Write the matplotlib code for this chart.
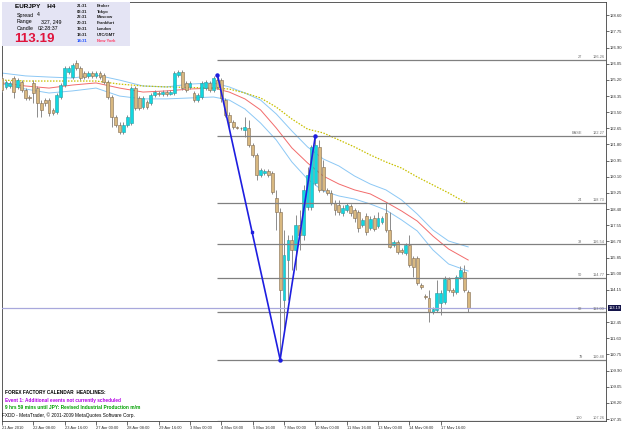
import numpy as np
import matplotlib
matplotlib.use('Agg')
import matplotlib.pyplot as plt
from matplotlib.patches import Rectangle
import matplotlib.transforms as mtransforms

plt.rcParams['font.family'] = ['Liberation Sans', 'DejaVu Sans']

# EURJPY H4 candles, 21 Apr 2010 00:00 .. 18 May 2010 20:00 (bar index 0..119)
opens = [125.30, 124.83, 124.88, 125.30, 124.83, 125.09, 124.67, 124.30, 125.04, 124.77,
         123.99, 124.14, 124.14, 123.62, 123.51, 124.30, 124.93, 125.62, 125.35, 126.09,
         125.83, 125.56, 125.41, 125.56, 125.41, 125.56, 125.46, 125.09, 124.30, 123.25,
         122.83, 122.46, 122.83, 122.93, 124.77, 124.25, 123.77, 124.04, 123.99, 124.41,
         124.51, 124.46, 124.56, 124.46, 124.51, 125.46, 125.62, 125.04, 124.83, 124.51,
         124.14, 124.30, 124.77, 125.04, 124.67, 125.19, 125.19, 124.14, 123.35, 122.98,
         122.72, 122.67, 122.56, 122.67, 121.77, 121.25, 120.20, 120.30, 120.41, 120.30,
         118.98, 118.25, 113.62, 115.72, 116.77, 116.25, 117.56, 117.04, 118.51, 118.51,
         119.77, 121.67, 120.62, 119.41, 119.25, 118.72, 118.62, 118.20, 118.35, 118.56,
         118.35, 118.25, 117.56, 118.04, 117.41, 117.93, 117.51, 117.72, 118.20, 117.30,
         116.51, 116.67, 116.25, 116.09, 116.51, 115.83, 115.83, 114.41, 113.83, 113.72,
         112.98, 113.09, 113.46, 113.51, 114.72, 114.14, 114.04, 114.83, 115.09, 114.04]
highs = [125.41, 125.19, 125.14, 125.41, 125.30, 125.19, 124.77, 124.41, 125.19, 124.88,
         124.14, 124.25, 124.25, 123.72, 124.51, 125.04, 125.93, 125.93, 126.09, 126.25,
         125.93, 125.67, 125.67, 125.67, 125.67, 125.67, 125.56, 125.19, 124.41, 123.35,
         122.98, 122.98, 123.35, 124.88, 124.88, 124.35, 124.35, 124.14, 124.51, 124.67,
         124.62, 124.67, 124.67, 124.67, 125.67, 125.72, 125.72, 125.14, 125.14, 124.62,
         124.51, 125.14, 125.19, 125.14, 125.41, 125.47, 125.30, 124.25, 123.51, 123.09,
         122.77, 122.72, 123.25, 123.09, 121.88, 121.35, 120.56, 120.51, 120.51, 120.41,
         119.41, 118.46, 117.30, 117.04, 117.04, 118.09, 118.35, 119.67, 120.62, 121.77,
         122.27, 122.04, 120.98, 119.51, 119.41, 118.88, 118.88, 118.62, 118.72, 118.67,
         118.46, 118.35, 117.93, 118.20, 118.04, 118.09, 118.25, 118.04, 118.72, 118.25,
         116.77, 116.77, 116.35, 116.62, 117.04, 115.93, 115.93, 114.51, 113.93, 114.14,
         113.25, 114.67, 114.14, 114.88, 114.83, 114.25, 114.93, 115.41, 115.46, 114.14]
lows = [124.56, 124.72, 124.77, 124.25, 124.72, 124.56, 124.14, 124.14, 123.99, 123.25,
        123.25, 123.83, 123.30, 123.35, 123.41, 124.20, 124.83, 125.51, 125.25, 125.72,
        125.19, 125.25, 125.30, 125.30, 125.30, 125.25, 124.98, 124.20, 122.72, 122.72,
        122.35, 122.35, 122.72, 122.83, 123.62, 123.62, 123.67, 123.67, 123.88, 124.30,
        124.35, 124.35, 124.35, 124.41, 124.41, 125.35, 124.67, 124.56, 124.72, 124.04,
        124.04, 124.20, 124.67, 124.56, 124.56, 124.72, 124.04, 123.25, 122.72, 122.61,
        122.61, 122.56, 122.20, 121.67, 121.14, 119.93, 120.09, 120.20, 120.09, 119.20,
        117.30, 110.48, 112.04, 113.62, 115.20, 115.20, 116.25, 116.77, 118.35, 118.35,
        119.67, 119.30, 119.30, 119.14, 118.62, 118.09, 118.09, 118.04, 118.25, 118.04,
        117.72, 117.19, 117.46, 117.04, 117.30, 117.25, 117.41, 117.62, 117.19, 116.35,
        116.41, 116.04, 116.04, 115.99, 115.35, 114.83, 114.41, 114.20, 113.67, 112.46,
        112.88, 112.98, 112.83, 113.41, 114.04, 113.83, 113.93, 114.72, 114.04, 112.98]
closes = [124.67, 125.09, 125.04, 124.56, 125.19, 124.67, 124.25, 124.25, 124.51, 123.99,
          123.62, 123.99, 123.46, 123.46, 124.41, 124.93, 125.83, 125.83, 125.98, 125.83,
          125.30, 125.35, 125.56, 125.41, 125.56, 125.35, 125.09, 124.30, 123.25, 122.83,
          122.46, 122.83, 123.25, 124.77, 123.72, 123.72, 124.25, 123.77, 124.41, 124.56,
          124.46, 124.56, 124.46, 124.56, 125.56, 125.62, 124.77, 124.67, 125.04, 124.14,
          124.41, 125.04, 125.09, 124.67, 125.30, 124.83, 124.25, 123.35, 122.98, 122.72,
          122.67, 122.65, 122.72, 121.77, 121.25, 120.20, 120.46, 120.41, 120.20, 119.30,
          118.25, 114.14, 115.99, 116.77, 116.25, 117.56, 117.04, 119.41, 120.20, 121.67,
          121.77, 119.41, 119.41, 119.25, 118.72, 118.35, 118.25, 118.46, 118.62, 118.20,
          117.93, 117.41, 117.83, 117.19, 117.88, 117.35, 117.93, 117.93, 117.30, 116.41,
          116.67, 116.14, 116.14, 116.51, 115.46, 115.35, 114.51, 114.30, 113.77, 112.98,
          113.14, 113.99, 113.99, 114.72, 114.14, 114.04, 114.83, 115.20, 114.14, 113.19]
bid = 113.19

# moving averages at selected bars
ma_bars = [0, 6, 12, 18, 24, 30, 36, 42, 48, 54, 58, 62, 66, 70, 74, 78, 82, 86, 90, 94,
           98, 102, 106, 110, 114, 119]
ma_slow = [125.19, 125.14, 125.14, 125.14, 125.14, 124.98, 124.88, 124.83, 124.80, 124.77,
           124.72, 124.51, 124.25, 123.77, 123.14, 122.61, 122.41, 122.04, 121.67, 121.25,
           120.88, 120.56, 120.09, 119.67, 119.25, 118.67]
ma_mid = [125.04, 124.88, 124.77, 124.93, 125.04, 124.77, 124.56, 124.62, 124.72, 124.77,
          124.56, 124.20, 123.62, 122.67, 121.62, 120.83, 120.14, 119.72, 119.41, 119.20,
          118.77, 118.30, 117.77, 116.98, 116.30, 115.72]
ma_upper = [125.56, 125.41, 125.35, 125.30, 125.46, 125.19, 124.88, 124.83, 124.98, 125.04,
            124.83, 124.51, 124.14, 123.41, 122.51, 121.67, 121.04, 120.67, 120.14, 119.72,
            119.41, 118.88, 118.14, 117.30, 116.72, 116.41]
ma_lower = [124.98, 124.72, 124.51, 124.62, 124.77, 124.35, 124.20, 124.20, 124.25, 124.30,
            124.14, 123.67, 122.93, 122.04, 120.88, 119.98, 119.35, 119.09, 118.93, 118.67,
            118.35, 117.83, 117.25, 116.25, 115.51, 115.14]

# zigzag swing points and the marked point on the down leg
zz_bars = [55, 71, 80]
zz_prices = [125.47, 110.48, 122.27]
zz_mark_bar = 63.8
zz_mark_price = 117.19

# fibonacci levels
fib_names = ['27', 'BASE', '24', '38', '50', '62', '79', '100']
fib_prices = [126.26, 122.27, 118.73, 116.54, 114.77, 113.00, 110.48, 107.26]
fib_start = 55

# axis labels
price_ticks = [128.60, 127.75, 126.90, 126.05, 125.20, 124.35, 123.50, 122.65, 121.80,
               120.95, 120.10, 119.25, 118.40, 117.55, 116.70, 115.85, 115.00, 114.15,
               112.45, 111.60, 110.75, 109.90, 109.05, 108.20, 107.35]
time_ticks = [0, 8, 16, 24, 32, 40, 48, 56, 64, 72, 80, 88, 96, 104, 112]
time_labels = ['21 Apr 2010', '22 Apr 08:00', '23 Apr 16:00', '27 Apr 00:00', '28 Apr 08:00',
               '29 Apr 16:00', '3 May 00:00', '4 May 08:00', '5 May 16:00', '7 May 00:00',
               '10 May 00:00', '11 May 16:00', '13 May 00:00', '14 May 08:00', '17 May 16:00']

clock_times = ['21:31', '03:31', '22:31', '20:31', '19:31', '18:31', '14:31']
clock_names = ['Broker', 'Tokyo', 'Moscow', 'Frankfurt', 'London', 'UTC/GMT', 'New York']

W, H = 625, 429
fig = plt.figure(figsize=(W / 100, H / 100), dpi=100)


def fx(px):
    return px / W


def fy(py):
    return 1 - py / H


ax = fig.add_axes([fx(2), fy(421), fx(606) - fx(2), fy(2) - fy(421)])
ax.set_xlim(0.255, 154.18)
ax.set_ylim(107.247, 129.30)

# moving averages
ax.plot(ma_bars, ma_upper, color='#8CC8F5', lw=0.7, zorder=2)
ax.plot(ma_bars, ma_lower, color='#8CC8F5', lw=0.7, zorder=2)
ax.plot(ma_bars, ma_mid, color='#F26B6B', lw=0.7, zorder=2)
ax.plot(ma_bars, ma_slow, color='#C8C000', lw=0.9, ls=(0, (1.2, 1.2)), zorder=2)

# candles
o = np.array(opens)
h = np.array(highs)
l = np.array(lows)
c = np.array(closes)
x = np.arange(len(o))
up = c >= o
ax.vlines(x, l, h, color='#8C8C8C', lw=0.7, zorder=3)
body_lo = np.minimum(o, c)
body_h = np.maximum(np.abs(c - o), 0.03)
ax.bar(x[up], body_h[up], bottom=body_lo[up], width=0.72, color='#10D8E0',
       edgecolor='#2A9AA0', lw=0.4, zorder=4)
ax.bar(x[~up], body_h[~up], bottom=body_lo[~up], width=0.72, color='#D8B880',
       edgecolor='#806A50', lw=0.4, zorder=4)

# bid line
ax.axhline(bid, color='#A8A8DC', lw=0.9, zorder=5)

# fibonacci levels
xr = ax.get_xlim()[1]
for name, p in zip(fib_names, fib_prices):
    ax.hlines(p, fib_start, xr, color='#808080', lw=0.9, zorder=5)
    ax.text(xr - 0.3, p + 0.04, f'{p:.2f}', ha='right', va='bottom', fontsize=2.8,
            color='#707070', zorder=6)
    ax.text(xr - 6.0, p + 0.04, name, ha='right', va='bottom', fontsize=2.8,
            color='#707070', zorder=6)

# zigzag
ax.plot(zz_bars, zz_prices, color='#1E1EE0', lw=1.2, zorder=7)
ax.plot(zz_bars, zz_prices, 'o', color='#1E1EE0', ms=2.2, zorder=7)
ax.plot([zz_mark_bar], [zz_mark_price], 's', color='#1E1EE0', ms=1.8, zorder=7)

# axes styling
for s in ax.spines.values():
    s.set_color('#404040')
    s.set_linewidth(0.6)
ax.yaxis.tick_right()
ax.set_yticks(price_ticks)
ax.set_yticklabels([f'{v:.2f}' for v in price_ticks])
ax.tick_params(axis='y', length=2, width=0.5, pad=1, labelsize=3.0, colors='#303030')
ax.set_xticks(time_ticks)
ax.set_xticklabels(time_labels)
ax.tick_params(axis='x', length=3, width=0.5, pad=0.5, labelsize=2.9, colors='#303030')
for t in ax.get_xticklabels():
    t.set_horizontalalignment('left')

trans = mtransforms.blended_transform_factory(ax.transAxes, ax.transData)
ax.text(1.004, bid, f'{bid:.2f}', transform=trans, ha='left', va='center', fontsize=3.0,
        color='white', zorder=8, clip_on=False,
        bbox=dict(facecolor='#14144A', edgecolor='none', pad=0.5))

# info panel
fig.patches.append(Rectangle((fx(2), fy(46)), fx(130) - fx(2), fy(2) - fy(46),
                             transform=fig.transFigure, facecolor='#E4E4F4',
                             edgecolor='none', zorder=5))
fig.text(fx(15), fy(6), 'EURJPY    H4', fontsize=4.6, fontweight='bold', va='center', zorder=6)
fig.text(fx(17), fy(15), 'Spread', fontsize=3.8, va='center', zorder=6)
fig.text(fx(37), fy(15), '4', fontsize=3.8, va='center', zorder=6)
fig.text(fx(17), fy(21.5), 'Range', fontsize=3.8, va='center', zorder=6)
fig.text(fx(41), fy(21.5), '327, 249', fontsize=3.8, va='center', zorder=6)
fig.text(fx(17), fy(28.3), 'Candle', fontsize=3.8, va='center', zorder=6)
fig.text(fx(38), fy(28.3), '02:28:37', fontsize=3.8, va='center', zorder=6)
fig.text(fx(14), fy(38.5), '113.19', fontsize=9.6, fontweight='bold', color='#E0143C',
         va='center', zorder=6)
for i, (t, n) in enumerate(zip(clock_times, clock_names)):
    last = i == len(clock_times) - 1
    yy = fy(5.7 + 5.83 * i)
    fig.text(fx(77), yy, t, fontsize=3.0, fontweight='bold', va='center', zorder=6,
             color='#1E50FF' if last else '#202020')
    fig.text(fx(97), yy, n, fontsize=3.0, fontweight='bold', va='center', zorder=6,
             color='#FF3C64' if last else '#202020')

# headlines
fig.text(fx(5), fy(392.5), 'FOREX FACTORY CALENDAR  HEADLINES:', fontsize=3.4,
         fontweight='bold', va='center', zorder=6)
fig.text(fx(5), fy(400.5), 'Event 1: Additional events not currently scheduled', fontsize=3.4,
         fontweight='bold', color='#B400E6', va='center', zorder=6)
fig.text(fx(5), fy(407.5), '9 hrs 59 mins until JPY: Revised Industrial Production m/m',
         fontsize=3.4, fontweight='bold', color='#00A000', va='center', zorder=6)
fig.text(fx(2.5), fy(415), 'FXDD - MetaTrader, \u00a9 2001-2009 MetaQuotes Software Corp.',
         fontsize=3.4, va='center', zorder=6)

fig.savefig('out.png', dpi=100, facecolor='white')
